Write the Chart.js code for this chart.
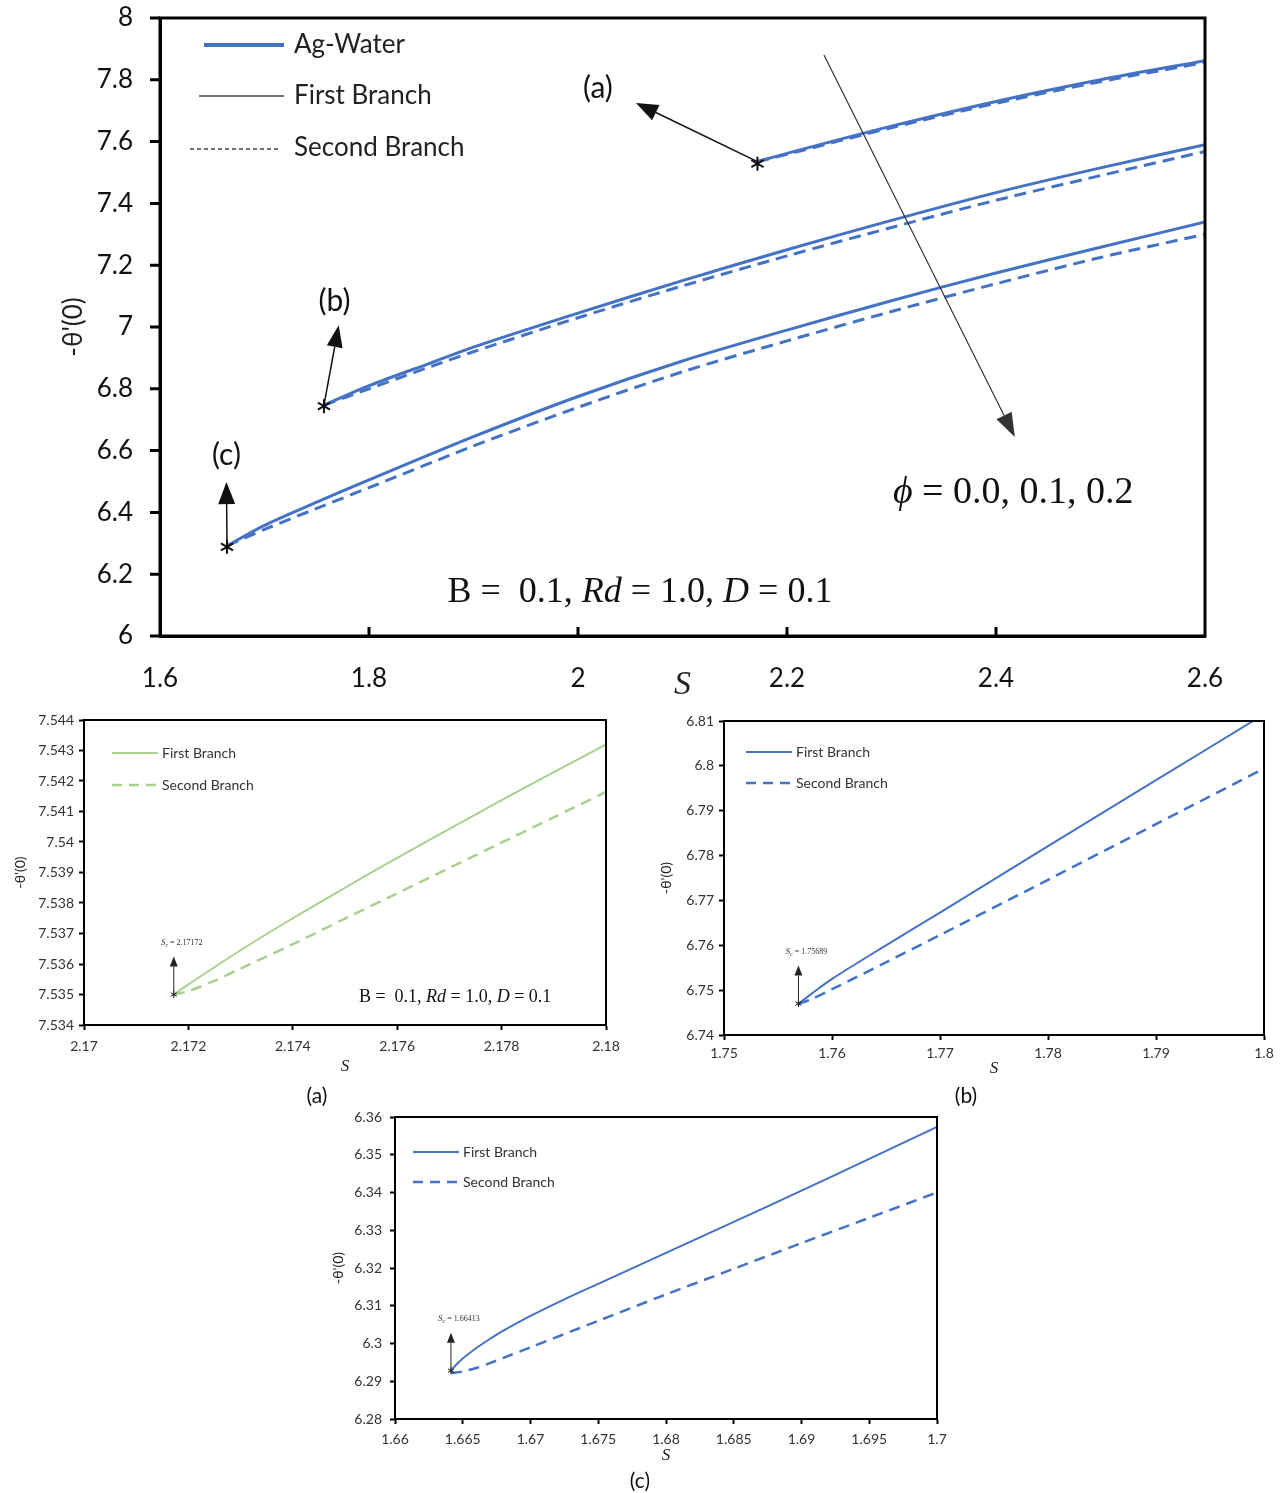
<!DOCTYPE html>
<html>
<head>
<meta charset="utf-8">
<script src="https://cdn.jsdelivr.net/npm/chart.js@4.4.1/dist/chart.umd.min.js"></script>
<style>
    html, body { margin: 0; padding: 0; background: #ffffff; }
    body { position: relative; width: 1283px; height: 1493px; overflow: hidden; font-family: Lato, "Open Sans", sans-serif; }
    canvas { position: absolute; }
    .rotulo { position: absolute; font-size: 21px; color: #111; transform: translate(-50%, -50%); }
</style>
</head>
<body>

<canvas id="graficoPrincipal" width="1283" height="705" style="left:0;top:0"></canvas>
<canvas id="graficoA" width="640" height="380" style="left:0;top:705px"></canvas>
<canvas id="graficoB" width="643" height="380" style="left:640px;top:705px"></canvas>
<canvas id="graficoC" width="640" height="372" style="left:320px;top:1100px"></canvas>

<div class="rotulo" style="left:317px;top:1094px">(a)</div>
<div class="rotulo" style="left:966px;top:1094px">(b)</div>
<div class="rotulo" style="left:640px;top:1479px">(c)</div>

<script>

// ===== grafico principal =====
// curva (a)
const sCurvaA = [2.17172, 2.2, 2.3, 2.4, 2.5, 2.6];
const primeiroRamoA = [7.535, 7.562, 7.650, 7.73, 7.80, 7.862];
const segundoRamoA = [7.535, 7.559, 7.645, 7.724, 7.794, 7.856];

// curva (b)
const sCurvaB = [1.75689, 1.8, 1.86, 1.9, 2.0, 2.1, 2.2, 2.3, 2.4, 2.5, 2.6];
const primeiroRamoB = [6.747, 6.81, 6.885, 6.935, 7.045, 7.15, 7.25, 7.345, 7.435, 7.515, 7.59];
const segundoRamoB = [6.747, 6.80, 6.873, 6.92, 7.03, 7.133, 7.23, 7.322, 7.41, 7.49, 7.568];

// curva (c)
const sCurvaC = [1.66413, 1.7, 1.75, 1.8, 1.9, 2.0, 2.1, 2.2, 2.3, 2.4, 2.5, 2.6];
const primeiroRamoC = [6.292, 6.358, 6.433, 6.505, 6.645, 6.775, 6.89, 6.99, 7.085, 7.175, 7.258, 7.34];
const segundoRamoC = [6.292, 6.345, 6.413, 6.48, 6.615, 6.74, 6.855, 6.955, 7.05, 7.14, 7.225, 7.30];

const ticksXPrincipal = [1.6, 1.8, 2.0, 2.2, 2.4, 2.6];
const ticksYPrincipal = [6, 6.2, 6.4, 6.6, 6.8, 7, 7.2, 7.4, 7.6, 7.8, 8];

// ===== detalhe (a) =====
const sPrimeiroA = [2.17172, 2.172, 2.173, 2.174, 2.175, 2.176, 2.177, 2.178, 2.179, 2.18];
const valPrimeiroA = [7.5350, 7.53533, 7.53645, 7.5375, 7.5385, 7.53948, 7.54043, 7.54137, 7.54229, 7.5432];
const sSegundoA = [2.17172, 2.172, 2.1725, 2.173, 2.174, 2.175, 2.176, 2.177, 2.178, 2.179, 2.18];
const valSegundoA = [7.5350, 7.53511, 7.53545, 7.53585, 7.53665, 7.53749, 7.53832, 7.53915, 7.53998, 7.54081, 7.54164];
const ticksXA = [2.17, 2.172, 2.174, 2.176, 2.178, 2.18];
const ticksYA = [7.534, 7.535, 7.536, 7.537, 7.538, 7.539, 7.54, 7.541, 7.542, 7.543, 7.544];

// ===== detalhe (b) =====
const sPrimeiroB = [1.75689, 1.758, 1.76, 1.765, 1.77, 1.78, 1.79, 1.8];
const valPrimeiroB = [6.7470, 6.7490, 6.7525, 6.7600, 6.7673, 6.7821, 6.7968, 6.8115];
const sSegundoB = [1.75689, 1.758, 1.76, 1.765, 1.77, 1.78, 1.79, 1.8];
const valSegundoB = [6.7469, 6.7479, 6.7502, 6.7562, 6.7623, 6.7746, 6.7870, 6.7994];
const ticksXB = [1.75, 1.76, 1.77, 1.78, 1.79, 1.8];
const ticksYB = [6.74, 6.75, 6.76, 6.77, 6.78, 6.79, 6.8, 6.81];

// ===== detalhe (c) =====
const sPrimeiroC = [1.66413, 1.6645, 1.665, 1.666, 1.667, 1.668, 1.67, 1.6725, 1.675, 1.68, 1.685, 1.69, 1.695, 1.7];
const valPrimeiroC = [6.2928, 6.2943, 6.2960, 6.2988, 6.3012, 6.3034, 6.3073, 6.3117, 6.3158, 6.3240, 6.3322, 6.3405, 6.3489, 6.3574];
const sSegundoC = [1.66413, 1.6645, 1.665, 1.666, 1.667, 1.668, 1.67, 1.675, 1.68, 1.685, 1.69, 1.695, 1.7];
const valSegundoC = [6.2922, 6.2923, 6.2926, 6.2935, 6.2948, 6.2962, 6.2990, 6.3060, 6.3130, 6.3198, 6.3266, 6.3333, 6.3400];
const ticksXC = [1.66, 1.665, 1.67, 1.675, 1.68, 1.685, 1.69, 1.695, 1.7];
const ticksYC = [6.28, 6.29, 6.3, 6.31, 6.32, 6.33, 6.34, 6.35, 6.36];

const azul = "#4472c4";
const verde = "#a9d18e";
const fonteTexto = "Lato";
const fonteMat = "Liberation Serif";


function pontos(xs, ys) {
    return xs.map(function(x, i) {
        return { x: x, y: ys[i] };
    });
}

function serie(xs, ys, cor, largura, tracejado) {
    return {
        data: pontos(xs, ys),
        showLine: true,
        borderColor: cor,
        backgroundColor: cor,
        borderWidth: largura,
        borderDash: tracejado,
        pointRadius: 0,
        tension: 0.3,
        fill: false
    };
}

function eixo(opc) {

    return {
        type: "linear",
        position: opc.posicao,
        min: opc.min,
        max: opc.max,

        afterBuildTicks: function(escala) {
            escala.ticks = opc.ticks.map(function(v) {
                return { value: v };
            });
        },

        afterFit: function(escala) {
            if (opc.posicao === "left") {
                escala.width = opc.tamanho;
            } else {
                escala.height = opc.tamanho;
            }
        },

        border: { display: true, color: "#000", width: opc.borda },

        grid: {
            display: true,
            drawOnChartArea: false,
            drawTicks: opc.marca > 0,
            tickLength: opc.marca,
            tickWidth: opc.borda,
            tickColor: opc.corMarca || "#000"
        },

        ticks: {
            color: opc.corTexto,
            font: { family: fonteTexto, size: opc.tamFonte },
            padding: opc.pad,
            maxRotation: 0,
            autoSkip: false,
            callback: function(v) {
                return String(parseFloat(Number(v).toFixed(4)));
            }
        },

        title: {
            display: true,
            text: opc.titulo,
            color: "#222",
            font: opc.fonteTitulo,
            padding: opc.padTitulo
        }
    };
}

function px(chart, v) { return chart.scales.x.getPixelForValue(v); }
function py(chart, v) { return chart.scales.y.getPixelForValue(v); }

function desenharSeta(ctx, x1, y1, x2, y2, comp, larg, esp, cor) {

    const ang = Math.atan2(y2 - y1, x2 - x1);
    const bx = x2 - Math.cos(ang) * comp;
    const by = y2 - Math.sin(ang) * comp;

    ctx.setLineDash([]);
    ctx.strokeStyle = cor;
    ctx.fillStyle = cor;
    ctx.lineWidth = esp;

    ctx.beginPath();
    ctx.moveTo(x1, y1);
    ctx.lineTo(bx, by);
    ctx.stroke();

    ctx.beginPath();
    ctx.moveTo(x2, y2);
    ctx.lineTo(bx + Math.sin(ang) * larg / 2, by - Math.cos(ang) * larg / 2);
    ctx.lineTo(bx - Math.sin(ang) * larg / 2, by + Math.cos(ang) * larg / 2);
    ctx.closePath();
    ctx.fill();
}

function desenharAsterisco(ctx, x, y, r, esp) {
    ctx.setLineDash([]);
    ctx.strokeStyle = "#111";
    ctx.lineWidth = esp;
    ctx.beginPath();
    for (let i = 0; i < 3; i++) {
        const a = Math.PI / 2 + i * Math.PI / 3;
        ctx.moveTo(x + Math.cos(a) * r, y + Math.sin(a) * r);
        ctx.lineTo(x - Math.cos(a) * r, y - Math.sin(a) * r);
    }
    ctx.stroke();
}

// texto com trechos de fontes diferentes, centralizado em x
function escreverTrechos(ctx, trechos, x, y, cor) {

    let total = 0;

    trechos.forEach(function(t) {
        ctx.font = t.fonte;
        total += ctx.measureText(t.texto).width;
    });

    let cx = x - total / 2;

    ctx.fillStyle = cor;
    ctx.textAlign = "left";
    ctx.textBaseline = "alphabetic";

    trechos.forEach(function(t) {
        ctx.font = t.fonte;
        ctx.fillText(t.texto, cx, y + (t.dy || 0));
        cx += ctx.measureText(t.texto).width;
    });
}

function desenharMoldura(chart, esp) {
    const ca = chart.chartArea;
    const ctx = chart.ctx;
    ctx.setLineDash([]);
    ctx.strokeStyle = "#000";
    ctx.lineWidth = esp;
    ctx.strokeRect(ca.left, ca.top, ca.right - ca.left, ca.bottom - ca.top);
}

function textoParametros(tam) {
    return [
        { texto: "B =  0.1, ", fonte: tam + "px '" + fonteMat + "'" },
        { texto: "Rd", fonte: "italic " + tam + "px '" + fonteMat + "'" },
        { texto: " = 1.0, ", fonte: tam + "px '" + fonteMat + "'" },
        { texto: "D", fonte: "italic " + tam + "px '" + fonteMat + "'" },
        { texto: " = 0.1", fonte: tam + "px '" + fonteMat + "'" }
    ];
}

function legendaDetalhe(ctx, ca, cor, dx, dy1, dy2) {

    ctx.lineWidth = 2;
    ctx.strokeStyle = cor;

    ctx.setLineDash([]);
    ctx.beginPath();
    ctx.moveTo(ca.left + dx, ca.top + dy1);
    ctx.lineTo(ca.left + dx + 46, ca.top + dy1);
    ctx.stroke();

    ctx.lineWidth = 2.5;
    ctx.setLineDash([10, 7]);
    ctx.beginPath();
    ctx.moveTo(ca.left + dx, ca.top + dy2);
    ctx.lineTo(ca.left + dx + 46, ca.top + dy2);
    ctx.stroke();
    ctx.setLineDash([]);

    ctx.fillStyle = "#333";
    ctx.font = "14px " + fonteTexto;
    ctx.textAlign = "left";
    ctx.textBaseline = "middle";
    ctx.fillText("First Branch", ca.left + dx + 50, ca.top + dy1);
    ctx.fillText("Second Branch", ca.left + dx + 50, ca.top + dy2);
}

function marcaCritica(ctx, x, y, texto) {

    desenharAsterisco(ctx, x, y, 3.5, 1);
    desenharSeta(ctx, x, y - 2, x, y - 38, 10, 8, 1, "#222");

    escreverTrechos(ctx, [
        { texto: "S", fonte: "italic 9px '" + fonteMat + "'" },
        { texto: "c", fonte: "italic 6px '" + fonteMat + "'", dy: 2 },
        { texto: " = " + texto, fonte: "8px '" + fonteMat + "'" }
    ], x + 8, y - 50, "#333");
}


function criarGraficoPrincipal() {

    const ctx = document.getElementById("graficoPrincipal");

    new Chart(ctx, {

        type: "scatter",

        data: {
            datasets: [
                serie(sCurvaA, primeiroRamoA, azul, 3, []),
                serie(sCurvaA, segundoRamoA, azul, 3, [12, 7]),
                serie(sCurvaB, primeiroRamoB, azul, 3, []),
                serie(sCurvaB, segundoRamoB, azul, 3, [12, 7]),
                serie(sCurvaC, primeiroRamoC, azul, 3, []),
                serie(sCurvaC, segundoRamoC, azul, 3, [12, 7])
            ]
        },

        options: {
            responsive: false,
            animation: false,
            events: [],

            layout: {
                padding: { top: 18, right: 78, left: 0, bottom: 0 }
            },

            plugins: {
                legend: { display: false },
                tooltip: { enabled: false }
            },

            scales: {
                x: eixo({
                    posicao: "bottom", min: 1.6, max: 2.6, ticks: ticksXPrincipal,
                    tamanho: 69, borda: 3, marca: 0, corTexto: "#111", tamFonte: 26, pad: 27,
                    titulo: "S",
                    fonteTitulo: { family: fonteMat, size: 34, style: "italic" },
                    padTitulo: { top: 0, bottom: 0 }
                }),
                // marcas do eixo y desenhadas no plugin, para o padding nao empurrar a area
                y: eixo({
                    posicao: "left", min: 6, max: 8, ticks: ticksYPrincipal,
                    tamanho: 160, borda: 3, marca: 25, corMarca: "rgba(0,0,0,0)", corTexto: "#111", tamFonte: 26, pad: 2,
                    titulo: "-\u03b8'(0)",
                    fonteTitulo: { family: fonteTexto, size: 26 },
                    padTitulo: { top: 58, bottom: 0 }
                })
            }
        },

        plugins: [{
            id: "anotacoesPrincipal",
            afterDraw: function(chart) {

                const c = chart.ctx;
                const ca = chart.chartArea;

                c.save();

                desenharMoldura(chart, 3);

                // marcas: internas no eixo x, externas no eixo y
                c.strokeStyle = "#000";
                c.lineWidth = 3;
                c.beginPath();
                ticksXPrincipal.slice(1, -1).forEach(function(v) {
                    c.moveTo(px(chart, v), ca.bottom);
                    c.lineTo(px(chart, v), ca.bottom - 9);
                });
                ticksYPrincipal.forEach(function(v) {
                    c.moveTo(ca.left, py(chart, v));
                    c.lineTo(ca.left - 10, py(chart, v));
                });
                c.stroke();

                // legenda
                c.lineWidth = 4;
                c.strokeStyle = azul;
                c.beginPath();
                c.moveTo(ca.left + 44, ca.top + 27);
                c.lineTo(ca.left + 124, ca.top + 27);
                c.stroke();

                c.lineWidth = 1.6;
                c.strokeStyle = "#444";
                c.beginPath();
                c.moveTo(ca.left + 39, ca.top + 78);
                c.lineTo(ca.left + 124, ca.top + 78);
                c.stroke();

                c.setLineDash([4, 3]);
                c.beginPath();
                c.moveTo(ca.left + 30, ca.top + 131);
                c.lineTo(ca.left + 118, ca.top + 131);
                c.stroke();
                c.setLineDash([]);

                c.fillStyle = "#222";
                c.font = "26px " + fonteTexto;
                c.textAlign = "left";
                c.textBaseline = "middle";
                c.fillText("Ag-Water", ca.left + 134, ca.top + 27);
                c.fillText("First Branch", ca.left + 134, ca.top + 78);
                c.fillText("Second Branch", ca.left + 134, ca.top + 130);

                // pontos criticos e setas
                const estrelaA = [px(chart, sCurvaA[0]), py(chart, primeiroRamoA[0])];
                const estrelaB = [px(chart, sCurvaB[0]), py(chart, primeiroRamoB[0])];
                const estrelaC = [px(chart, sCurvaC[0]), py(chart, primeiroRamoC[0])];

                desenharSeta(c, estrelaA[0], estrelaA[1], px(chart, 2.0555), py(chart, 7.725), 22, 17, 1.5, "#111");
                desenharSeta(c, estrelaB[0], estrelaB[1], px(chart, 1.771), py(chart, 7.006), 22, 16, 1.5, "#111");
                desenharSeta(c, estrelaC[0], estrelaC[1], px(chart, 1.6636), py(chart, 6.498), 22, 17, 1.5, "#111");

                desenharAsterisco(c, estrelaA[0], estrelaA[1] + 2, 7, 2);
                desenharAsterisco(c, estrelaB[0], estrelaB[1] + 1, 7, 2);
                desenharAsterisco(c, estrelaC[0], estrelaC[1] + 1, 7, 2);

                c.fillStyle = "#111";
                c.font = "30px " + fonteTexto;
                c.textAlign = "center";
                c.textBaseline = "middle";
                c.fillText("(a)", px(chart, 2.019), py(chart, 7.773));
                c.fillText("(b)", px(chart, 1.767), py(chart, 7.082));
                c.fillText("(c)", px(chart, 1.6636), py(chart, 6.586));

                // seta de phi
                desenharSeta(c, px(chart, 2.2354), py(chart, 7.88), px(chart, 2.418), py(chart, 6.644), 24, 17, 1.2, "#333");

                escreverTrechos(c, [
                    { texto: "\u03d5", fonte: "italic 38px '" + fonteMat + "'" },
                    { texto: " = 0.0, 0.1, 0.2", fonte: "38px '" + fonteMat + "'" }
                ], px(chart, 2.4165), py(chart, 6.472) + 13, "#111");

                escreverTrechos(c, textoParametros(36), px(chart, 2.0593), py(chart, 6.149) + 12, "#111");

                c.restore();
            }
        }]
    });
}


function criarGraficoDetalhe(id, cfg) {

    const ctx = document.getElementById(id);

    new Chart(ctx, {

        type: "scatter",

        data: {
            datasets: [
                serie(cfg.s1, cfg.v1, cfg.cor, 2, []),
                serie(cfg.s2, cfg.v2, cfg.cor, 2.5, [11, 7])
            ]
        },

        options: {
            responsive: false,
            animation: false,
            events: [],

            layout: { padding: cfg.padding },

            plugins: {
                legend: { display: false },
                tooltip: { enabled: false }
            },

            scales: {
                x: eixo({
                    posicao: "bottom", min: cfg.ticksX[0], max: cfg.ticksX[cfg.ticksX.length - 1], ticks: cfg.ticksX,
                    tamanho: cfg.alturaX, borda: 2, marca: 5, corTexto: "#333", tamFonte: 14, pad: cfg.padX,
                    titulo: "S",
                    fonteTitulo: { family: fonteMat, size: 17, style: "italic" },
                    padTitulo: { top: 0, bottom: cfg.padTituloX }
                }),
                y: eixo({
                    posicao: "left", min: cfg.ticksY[0], max: cfg.ticksY[cfg.ticksY.length - 1], ticks: cfg.ticksY,
                    tamanho: cfg.larguraY, borda: 2, marca: 5, corTexto: "#333", tamFonte: 14, pad: cfg.padY,
                    titulo: "-\u03b8'(0)",
                    fonteTitulo: { family: fonteTexto, size: 14 },
                    padTitulo: { top: cfg.padTituloY, bottom: 0 }
                })
            }
        },

        plugins: [{
            id: "anotacoes" + id,
            afterDraw: function(chart) {

                const c = chart.ctx;
                const ca = chart.chartArea;

                c.save();
                desenharMoldura(chart, 2);
                legendaDetalhe(c, ca, cfg.cor, cfg.legX, cfg.legY1, cfg.legY2);
                marcaCritica(c, px(chart, cfg.s1[0]), py(chart, cfg.v1[0]), cfg.textoCritico);

                if (cfg.parametros) {
                    escreverTrechos(c, textoParametros(18), px(chart, cfg.parametros[0]), py(chart, cfg.parametros[1]) + 6, "#111");
                }

                c.restore();
            }
        }]
    });
}


criarGraficoPrincipal();

criarGraficoDetalhe("graficoA", {
    s1: sPrimeiroA, v1: valPrimeiroA, s2: sSegundoA, v2: valSegundoA,
    ticksX: ticksXA, ticksY: ticksYA, cor: verde,
    padding: { top: 15, right: 34, left: 0, bottom: 0 },
    alturaX: 60, larguraY: 84, padX: 8, padY: 5,
    padTituloX: 8, padTituloY: 12,
    legX: 28, legY1: 33, legY2: 65,
    textoCritico: "2.17172",
    parametros: [2.17711, 7.53495]
});

criarGraficoDetalhe("graficoB", {
    s1: sPrimeiroB, v1: valPrimeiroB, s2: sSegundoB, v2: valSegundoB,
    ticksX: ticksXB, ticksY: ticksYB, cor: azul,
    padding: { top: 16, right: 19, left: 0, bottom: 0 },
    alturaX: 50, larguraY: 84, padX: 5, padY: 5,
    padTituloX: 6, padTituloY: 18,
    legX: 22, legY1: 31, legY2: 62,
    textoCritico: "1.75689"
});

criarGraficoDetalhe("graficoC", {
    s1: sPrimeiroC, v1: valPrimeiroC, s2: sSegundoC, v2: valSegundoC,
    ticksX: ticksXC, ticksY: ticksYC, cor: azul,
    padding: { top: 17, right: 23, left: 0, bottom: 0 },
    alturaX: 53, larguraY: 75, padX: 7, padY: 8,
    padTituloX: 6, padTituloY: 10,
    legX: 18, legY1: 35, legY2: 65,
    textoCritico: "1.66413"
});

</script>
</body>
</html>
